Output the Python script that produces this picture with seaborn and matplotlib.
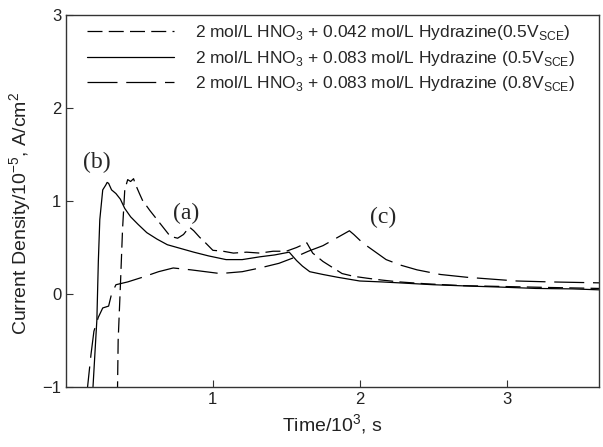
import matplotlib
matplotlib.use("Agg")
import matplotlib.pyplot as plt
import seaborn as sns
import pandas as pd

# Time (10^3 s) and current density (10^-5 A/cm^2) for each solution
t_a = [0.35, 0.355, 0.37, 0.385, 0.40, 0.42, 0.44, 0.46, 0.47, 0.50, 0.52, 0.57, 0.62, 0.67, 0.71,
       0.76, 0.80, 0.84, 0.87, 0.91, 0.95, 1.00, 1.07, 1.14, 1.23, 1.32, 1.41, 1.50, 1.57, 1.64,
       1.68, 1.75, 1.82, 1.88, 1.96, 2.05, 2.15, 2.27, 2.45, 2.7, 3.0, 3.3, 3.63]
j_a = [-1.10, -0.5, 0.08, 0.7, 1.12, 1.23, 1.21, 1.24, 1.19, 1.08, 1.01, 0.90, 0.80, 0.70, 0.62,
       0.60, 0.64, 0.72, 0.68, 0.61, 0.55, 0.47, 0.46, 0.44, 0.45, 0.44, 0.46, 0.46, 0.50, 0.55,
       0.44, 0.35, 0.28, 0.22, 0.19, 0.17, 0.15, 0.13, 0.11, 0.09, 0.08, 0.07, 0.06]

t_b = [0.18, 0.20, 0.21, 0.22, 0.23, 0.25, 0.27, 0.28, 0.29, 0.31, 0.34, 0.37, 0.40, 0.44, 0.49,
       0.55, 0.62, 0.69, 0.78, 0.87, 0.97, 1.09, 1.20, 1.32, 1.42, 1.52, 1.57, 1.61, 1.66, 1.75,
       1.85, 2.0, 2.15, 2.27, 2.5, 2.75, 2.95, 3.2, 3.45, 3.63]
j_b = [-1.10, -0.55, -0.28, 0.35, 0.80, 1.12, 1.17, 1.20, 1.19, 1.12, 1.08, 1.02, 0.92, 0.83, 0.75,
       0.66, 0.59, 0.53, 0.49, 0.45, 0.41, 0.37, 0.37, 0.40, 0.42, 0.45, 0.36, 0.30, 0.24, 0.21,
       0.18, 0.14, 0.13, 0.12, 0.10, 0.085, 0.075, 0.06, 0.055, 0.045]

t_c = [0.14, 0.17, 0.19, 0.22, 0.25, 0.29, 0.31, 0.34, 0.42, 0.52, 0.63, 0.73, 0.85, 1.05, 1.20,
       1.32, 1.45, 1.55, 1.65, 1.75, 1.84, 1.93, 1.96, 2.02, 2.10, 2.18, 2.28, 2.39, 2.55, 2.73,
       2.9, 3.07, 3.3, 3.63]
j_c = [-1.10, -0.65, -0.40, -0.25, -0.15, -0.13, 0.0, 0.10, 0.13, 0.18, 0.24, 0.28, 0.26, 0.22, 0.24,
       0.28, 0.33, 0.39, 0.46, 0.52, 0.60, 0.68, 0.64, 0.55, 0.46, 0.37, 0.31, 0.26, 0.21, 0.18,
       0.16, 0.14, 0.13, 0.12]

labels = [
    r"2 mol/L HNO$_\mathregular{3}$ + 0.042 mol/L Hydrazine(0.5V$_\mathregular{SCE}$)",
    r"2 mol/L HNO$_\mathregular{3}$ + 0.083 mol/L Hydrazine (0.5V$_\mathregular{SCE}$)",
    r"2 mol/L HNO$_\mathregular{3}$ + 0.083 mol/L Hydrazine (0.8V$_\mathregular{SCE}$)",
]
annotations = [("(a)", 0.82, 0.87), ("(b)", 0.21, 1.42), ("(c)", 2.16, 0.82)]

sns.set_style("ticks")
plt.rcParams["font.family"] = ["Liberation Sans", "DejaVu Sans"]
plt.rcParams["mathtext.fontset"] = "custom"
plt.rcParams["mathtext.rm"] = "Liberation Sans"

fig = plt.figure(figsize=(6.03, 4.47), dpi=100)
ax = fig.add_axes([0.1095, 0.1342, 0.8839, 0.8322])

series = [(t_a, j_a, (0, (12, 5))), (t_b, j_b, "-"), (t_c, j_c, (0, (24, 7)))]
for (t, j, ls), lab in zip(series, labels):
    df = pd.DataFrame({"time": t, "current": j})
    sns.lineplot(data=df, x="time", y="current", ax=ax, color="black", linewidth=0.9,
                 linestyle=ls, label=lab, sort=False, estimator=None)

for txt, x, y in annotations:
    ax.text(x, y, txt, family="Liberation Serif", fontsize=17, ha="center", va="center")

ax.set_xlim(0, 3.63)
ax.set_ylim(-1, 3)
ax.set_xticks([1, 2, 3])
ax.set_yticks([-1, 0, 1, 2, 3])
ax.tick_params(direction="in", length=5, width=0.8, labelsize=12, color="#333333", labelcolor="#222222")
for s in ax.spines.values():
    s.set_visible(True)
    s.set_linewidth(1.0)
    s.set_color("#333333")

ax.set_xlabel(r"Time/10$^\mathregular{3}$, s", fontsize=14, color="#222222")
ax.set_ylabel(r"Current Density/10$^\mathregular{-5}$, A/cm$^\mathregular{2}$", fontsize=14, color="#222222")
ax.yaxis.set_label_coords(-0.06, 0.467)

ax.legend(loc="upper left", bbox_to_anchor=(0.01, 1.02), frameon=False, fontsize=12.5,
          handlelength=5.0, handletextpad=1.2, labelspacing=0.38)

fig.savefig("out.png", dpi=100)
